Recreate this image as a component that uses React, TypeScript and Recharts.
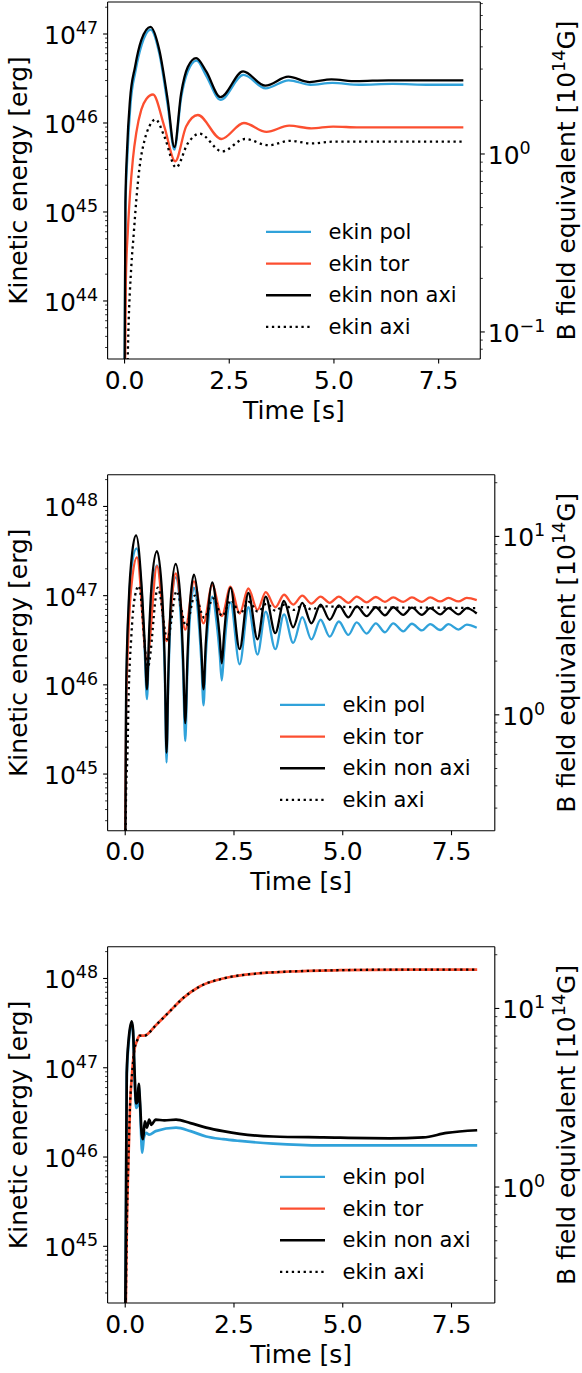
import React from 'react';
import { LineChart, Line, XAxis, YAxis, Legend, ReferenceLine } from 'recharts';

// each point is [time in s, log10 of kinetic energy in erg]
type Pt = [number, number];

const W = 582;
const FONT = '"DejaVu Sans", sans-serif';
const BLUE = '#30a2da';
const RED = '#fc4f30';
const DOT = '2.3 3.6';

const timeTicks = [0, 2.5, 5, 7.5];
const timeDomain: [number, number] = [-0.405, 8.495];
const mantissas = [2, 3, 4, 5, 6, 7, 8, 9];

// ---------- panel 1 ----------
const p1Pol: Pt[] = [
  [0, 43.0], [0.02, 45.0], [0.07, 45.65], [0.14, 46.2], [0.26, 46.58], [0.41, 46.88], [0.62, 47.05],
  [0.83, 46.78], [1.03, 46.2], [1.19, 45.7], [1.35, 46.28], [1.51, 46.58], [1.72, 46.7], [1.95, 46.53],
  [2.29, 46.26], [2.84, 46.54], [3.37, 46.39], [3.92, 46.48], [4.44, 46.43], [4.96, 46.45], [5.6, 46.43],
  [6.4, 46.44], [7.3, 46.43], [8.09, 46.43],
];
const p1Tor: Pt[] = [
  [0, 42.5], [0.03, 44.2], [0.08, 44.8], [0.13, 45.2], [0.2, 45.6], [0.28, 45.89], [0.4, 46.15], [0.52, 46.27],
  [0.68, 46.32], [0.95, 45.96], [1.21, 45.57], [1.47, 45.96], [1.75, 46.09], [2.31, 45.82], [2.85, 46.0],
  [3.39, 45.9], [3.93, 45.97], [4.46, 45.94], [4.98, 45.96], [5.6, 45.95], [6.4, 45.95], [7.3, 45.95], [8.09, 45.95],
];
const p1NonAxi: Pt[] = [
  [0, 43.0], [0.02, 45.1], [0.06, 45.7], [0.13, 46.26], [0.25, 46.63], [0.4, 46.93], [0.62, 47.08],
  [0.83, 46.82], [1.03, 46.26], [1.19, 45.73], [1.35, 46.33], [1.51, 46.63], [1.71, 46.73], [1.95, 46.58],
  [2.29, 46.29], [2.83, 46.58], [3.36, 46.42], [3.91, 46.52], [4.42, 46.46], [4.94, 46.49], [5.54, 46.47],
  [6.3, 46.48], [7.2, 46.48], [8.09, 46.48],
];
const p1Axi: Pt[] = [
  [0.05, 42.8], [0.09, 43.64], [0.16, 44.38], [0.22, 44.76], [0.28, 45.13], [0.36, 45.51], [0.48, 45.81],
  [0.6, 45.97], [0.74, 46.04], [0.95, 45.85], [1.23, 45.5], [1.51, 45.77], [1.79, 45.88], [2.33, 45.68],
  [2.87, 45.82], [3.44, 45.75], [3.95, 45.8], [4.46, 45.77], [4.98, 45.79], [5.6, 45.79], [6.4, 45.79],
  [7.3, 45.79], [8.09, 45.79],
];

// ---------- panel 2 ----------
const p2Pol: Pt[] = [
  [0, 44.0], [0.02, 45.8], [0.08, 46.85], [0.16, 47.37], [0.26, 47.53],
  [0.39, 46.95], [0.45, 46.35], [0.5, 45.84], [0.55, 46.5], [0.61, 47.0], [0.73, 47.34],
  [0.85, 46.85], [0.91, 46.1], [0.95, 45.13], [0.99, 46.0], [1.05, 46.8], [1.16, 47.205],
  [1.27, 46.8], [1.33, 46.15], [1.38, 45.37], [1.43, 46.15], [1.48, 46.7], [1.58, 47.09],
  [1.69, 46.7], [1.75, 46.25], [1.8, 45.77], [1.85, 46.3], [1.9, 46.65], [2.0, 46.99],
  [2.11, 46.65], [2.17, 46.35], [2.22, 46.05], [2.27, 46.35], [2.32, 46.65], [2.42, 46.925],
  [2.63, 46.23], [2.83, 46.87], [3.04, 46.34], [3.23, 46.82], [3.45, 46.4], [3.65, 46.79], [3.86, 46.47],
  [4.07, 46.76], [4.28, 46.51], [4.49, 46.73], [4.7, 46.54], [4.91, 46.71], [5.13, 46.56], [5.32, 46.7],
  [5.55, 46.575], [5.76, 46.69], [5.97, 46.59], [6.16, 46.69], [6.39, 46.6], [6.59, 46.685], [6.82, 46.61],
  [7.01, 46.68], [7.24, 46.615], [7.43, 46.68], [7.66, 46.62], [7.85, 46.675], [8.08, 46.64],
];
const p2Tor: Pt[] = [
  [0, 44.3], [0.02, 45.7], [0.06, 46.4], [0.11, 46.92], [0.17, 47.23], [0.27, 47.43], [0.5, 46.28],
  [0.73, 47.33], [0.95, 46.49], [1.16, 47.25], [1.38, 46.62], [1.58, 47.16], [1.8, 46.69], [2.0, 47.12],
  [2.22, 46.77], [2.42, 47.1], [2.63, 46.8], [2.83, 47.08], [3.04, 46.84], [3.23, 47.04], [3.45, 46.87],
  [3.65, 47.01], [3.86, 46.9], [4.07, 47.0], [4.28, 46.91], [4.49, 46.99], [4.7, 46.92], [4.91, 46.99],
  [5.13, 46.92], [5.32, 46.99], [5.55, 46.925], [5.76, 46.985], [5.97, 46.93], [6.16, 46.98], [6.39, 46.93],
  [6.59, 46.98], [6.82, 46.93], [7.01, 46.98], [7.24, 46.935], [7.43, 46.975], [7.66, 46.935], [7.85, 46.975],
  [8.08, 46.95],
];
const p2NonAxi: Pt[] = [
  [0, 44.0], [0.02, 45.9], [0.08, 46.92], [0.16, 47.48], [0.25, 47.675],
  [0.39, 47.0], [0.45, 46.45], [0.5, 45.95], [0.55, 46.6], [0.61, 47.15], [0.73, 47.5],
  [0.85, 47.0], [0.91, 46.2], [0.95, 45.24], [0.99, 46.1], [1.05, 46.95], [1.16, 47.355],
  [1.27, 46.95], [1.33, 46.3], [1.38, 45.57], [1.43, 46.3], [1.48, 46.85], [1.58, 47.235],
  [1.69, 46.85], [1.75, 46.4], [1.8, 45.95], [1.85, 46.45], [1.9, 46.8], [2.0, 47.15],
  [2.11, 46.82], [2.17, 46.55], [2.22, 46.24], [2.27, 46.55], [2.32, 46.82], [2.42, 47.09],
  [2.63, 46.4], [2.83, 47.03], [3.04, 46.51], [3.23, 46.99], [3.45, 46.58], [3.65, 46.94], [3.86, 46.645],
  [4.07, 46.92], [4.28, 46.69], [4.49, 46.9], [4.7, 46.73], [4.91, 46.89], [5.13, 46.757], [5.32, 46.88],
  [5.55, 46.77], [5.76, 46.87], [5.97, 46.78], [6.16, 46.87], [6.39, 46.785], [6.59, 46.865], [6.82, 46.785],
  [7.01, 46.86], [7.24, 46.79], [7.43, 46.86], [7.66, 46.79], [7.85, 46.86], [8.08, 46.8],
];
const p2Axi: Pt[] = [
  [0, 43.5], [0.02, 44.8], [0.05, 45.2], [0.08, 45.9], [0.14, 46.54], [0.2, 46.92], [0.31, 47.11],
  [0.52, 46.2], [0.75, 47.09], [0.97, 46.51], [1.18, 47.05], [1.4, 46.66], [1.6, 47.0], [1.82, 46.75],
  [2.02, 46.97], [2.23, 46.77], [2.43, 46.95], [2.64, 46.8], [2.84, 46.93], [3.05, 46.82], [3.25, 46.91],
  [3.46, 46.83], [3.66, 46.9], [3.87, 46.84], [4.08, 46.89], [4.29, 46.845], [4.5, 46.88], [4.92, 46.875],
  [5.5, 46.87], [6.2, 46.865], [7.0, 46.865], [8.08, 46.86],
];

// ---------- panel 3 ----------
const p3Pol: Pt[] = [
  [0, 44.0], [0.02, 45.55], [0.035, 46.9], [0.08, 47.28], [0.15, 47.5], [0.18, 47.4], [0.21, 46.98],
  [0.25, 46.55], [0.28, 46.57], [0.31, 46.78], [0.34, 46.57], [0.39, 46.05], [0.43, 46.22], [0.48, 46.27],
  [0.55, 46.25], [0.7, 46.29], [1.17, 46.33], [1.5, 46.29], [1.86, 46.23], [2.25, 46.2], [2.63, 46.18],
  [3.4, 46.15], [4.55, 46.13], [6.0, 46.13], [8.09, 46.13],
];
const p3Tor: Pt[] = [
  [0, 43.8], [0.02, 44.6], [0.04, 45.3], [0.07, 45.9], [0.11, 46.57], [0.16, 46.95], [0.21, 47.2],
  [0.27, 47.3], [0.33, 47.36], [0.44, 47.36], [0.71, 47.48], [1.02, 47.63], [1.33, 47.78], [1.71, 47.91],
  [2.25, 48.0], [3.02, 48.056], [3.78, 48.078], [4.94, 48.093], [6.5, 48.1], [8.09, 48.1],
];
const p3NonAxi: Pt[] = [
  [0, 44.0], [0.02, 45.6], [0.035, 46.94], [0.08, 47.32], [0.15, 47.52], [0.18, 47.42], [0.21, 47.02],
  [0.25, 46.6], [0.28, 46.62], [0.31, 46.82], [0.34, 46.62], [0.38, 46.25], [0.41, 46.2], [0.45, 46.4],
  [0.5, 46.33], [0.55, 46.42], [0.6, 46.36], [0.7, 46.42], [0.9, 46.41], [1.17, 46.42], [1.5, 46.38],
  [1.86, 46.33], [2.25, 46.29], [2.63, 46.26], [3.4, 46.23], [4.55, 46.22], [6.08, 46.21], [6.85, 46.22],
  [7.39, 46.27], [8.09, 46.3],
];
const p3Axi: Pt[] = [
  [0, 43.8], [0.02, 44.6], [0.04, 45.3], [0.07, 45.9], [0.11, 46.57], [0.16, 46.95], [0.21, 47.2],
  [0.27, 47.3], [0.33, 47.36], [0.44, 47.36], [0.71, 47.48], [1.02, 47.63], [1.33, 47.78], [1.71, 47.91],
  [2.25, 48.0], [3.02, 48.056], [3.78, 48.078], [4.94, 48.093], [6.5, 48.1], [8.09, 48.1],
];

// axis ranges (energy in erg, B in 1e14 G)
const p1EDomain: [number, number] = [2.228e43, 2.289e47];
const p1BDomain: [number, number] = [0.07047, 7.145];
const p23EDomain: [number, number] = [2.317e44, 2.27e48];
const p23BDomain: [number, number] = [0.2241, 22.18];
const p1EMajor = [1e44, 1e45, 1e46, 1e47];
const p1BMajor = [0.1, 1];
const p23EMajor = [1e45, 1e46, 1e47, 1e48];
const p23BMajor = [1, 10];

const logTicks = (major: number[], dom: [number, number]) => {
  const lo = Math.floor(Math.log10(dom[0]));
  const hi = Math.ceil(Math.log10(dom[1]));
  const minor: number[] = [];
  for (let d = lo; d <= hi; d++) {
    mantissas.forEach((m) => {
      const v = m * Math.pow(10, d);
      if (v >= dom[0] && v <= dom[1]) minor.push(v);
    });
  }
  return [...major, ...minor].sort((a, b) => a - b);
};

const toData = (pts: Pt[]) => pts.map(([t, lg]) => ({ t, e: Math.pow(10, lg) }));

const LogTick = (props: any) => {
  const { x, y, payload, side } = props;
  const v = payload.value;
  const lg = Math.log10(v);
  const exp = Math.round(lg);
  const major = Math.abs(lg - exp) < 1e-6;
  const dir = side === 'left' ? -1 : 1;
  const len = major ? 4.5 : 2.5;
  const expStr = exp < 0 ? `\u2212${-exp}` : `${exp}`;
  return (
    <g>
      <line x1={x} x2={x + dir * len} y1={y} y2={y} stroke="#000" strokeWidth={major ? 1.1 : 0.8} />
      {major && (
        <text
          x={side === 'left' ? x - 9.5 : x + 7.5}
          y={y + 10}
          textAnchor={side === 'left' ? 'end' : 'start'}
          fontSize={25}
          fontFamily={FONT}
          fill="#000"
        >
          10<tspan dy={-10} fontSize={17.5}>{expStr}</tspan>
        </text>
      )}
    </g>
  );
};

const TimeTick = (props: any) => {
  const { x, y, payload } = props;
  return (
    <g>
      <line x1={x} x2={x} y1={y} y2={y + 4.5} stroke="#000" strokeWidth={1.1} />
      <text x={x} y={y + 29.5} textAnchor="middle" fontSize={25} fontFamily={FONT} fill="#000">
        {payload.value.toFixed(1)}
      </text>
    </g>
  );
};

interface Series {
  name: string;
  color: string;
  dash?: string;
  pts: Pt[];
}

const makeSeries = (pol: Pt[], tor: Pt[], nonAxi: Pt[], axi: Pt[]): Series[] => [
  { name: 'ekin pol', color: BLUE, pts: pol },
  { name: 'ekin tor', color: RED, pts: tor },
  { name: 'ekin non axi', color: '#000', pts: nonAxi },
  { name: 'ekin axi', color: '#000', dash: DOT, pts: axi },
];

const LegendBox = ({ series }: { series: Series[] }) => (
  <svg width={230} height={128} style={{ display: 'block' }}>
    {series.map((s, i) => {
      const cy = 15.85 + i * 31.7;
      return (
        <g key={s.name}>
          <line x1={0} x2={45} y1={cy} y2={cy} stroke={s.color} strokeWidth={2.3} strokeDasharray={s.dash} />
          <text x={62.5} y={cy + 7} fontSize={21} fontFamily={FONT} fill="#000">
            {s.name}
          </text>
        </g>
      );
    })}
  </svg>
);

interface PanelProps {
  top: number;
  height: number;
  plotTop: number;
  plotBottom: number;
  plotRight: number;
  eDomain: [number, number];
  bDomain: [number, number];
  eMajor: number[];
  bMajor: number[];
  series: Series[];
  legendLeft: number;
  legendTop: number;
  lineWidth?: number;
}

const spine = { stroke: '#000', strokeWidth: 1.1 };

const Panel = (p: PanelProps) => {
  const plotLeft = 107.6;
  const margin = {
    top: p.plotTop,
    left: plotLeft - 60,
    right: W - p.plotRight - 60,
    bottom: p.height - p.plotBottom - 40,
  };
  const cy = (p.plotTop + p.plotBottom) / 2;
  const cx = (plotLeft + p.plotRight) / 2;
  return (
    <div style={{ position: 'absolute', left: 0, top: p.top, width: W, height: p.height }}>
      <LineChart width={W} height={p.height} margin={margin}>
        <XAxis
          type="number"
          dataKey="t"
          domain={timeDomain}
          ticks={timeTicks}
          allowDataOverflow
          interval={0}
          height={40}
          tickSize={0}
          tickMargin={0}
          tickLine={false}
          axisLine={spine}
          tick={<TimeTick />}
        />
        <YAxis
          yAxisId="e"
          type="number"
          scale="log"
          domain={p.eDomain}
          allowDataOverflow
          ticks={logTicks(p.eMajor, p.eDomain)}
          interval={0}
          width={60}
          tickSize={0}
          tickMargin={0}
          tickLine={false}
          axisLine={spine}
          tick={<LogTick side="left" />}
        />
        <YAxis
          yAxisId="b"
          orientation="right"
          type="number"
          scale="log"
          domain={p.bDomain}
          allowDataOverflow
          ticks={logTicks(p.bMajor, p.bDomain)}
          interval={0}
          width={60}
          tickSize={0}
          tickMargin={0}
          tickLine={false}
          axisLine={spine}
          tick={<LogTick side="right" />}
        />
        <ReferenceLine yAxisId="e" y={p.eDomain[1]} stroke="#000" strokeWidth={1.1} ifOverflow="visible" />
        {p.series.map((s) => (
          <Line
            key={s.name}
            yAxisId="e"
            data={toData(s.pts)}
            dataKey="e"
            name={s.name}
            type="monotone"
            stroke={s.color}
            strokeWidth={s.dash ? 2.3 : p.lineWidth ?? 2.3}
            strokeDasharray={s.dash}
            dot={false}
            activeDot={false}
            isAnimationActive={false}
          />
        ))}
        <Legend
          layout="vertical"
          align="center"
          verticalAlign="middle"
          width={230}
          height={128}
          wrapperStyle={{ left: p.legendLeft, top: p.legendTop, width: 230, height: 128 }}
          content={() => <LegendBox series={p.series} />}
        />
      </LineChart>
      <svg
        width={W}
        height={p.height}
        style={{ position: 'absolute', left: 0, top: 0, pointerEvents: 'none' }}
      >
        <text
          x={26.8}
          y={cy}
          transform={`rotate(-90 26.8 ${cy})`}
          textAnchor="middle"
          fontSize={25}
          fontFamily={FONT}
          fill="#000"
        >
          Kinetic energy [erg]
        </text>
        <text x={cx} y={p.plotBottom + 59.6} textAnchor="middle" fontSize={25} fontFamily={FONT} fill="#000">
          Time [s]
        </text>
        <text
          x={575}
          y={cy}
          transform={`rotate(-90 575 ${cy})`}
          textAnchor="middle"
          fontSize={25}
          fontFamily={FONT}
          fill="#000"
        >
          B field equivalent [10<tspan dy={-10} fontSize={17.5}>14</tspan>
          <tspan dy={10}>G]</tspan>
        </text>
      </svg>
    </div>
  );
}

export default function App() {
  return (
    <div style={{ position: 'absolute', left: 0, top: 0, width: W, height: 1373, background: '#fff' }}>
      <Panel
        top={0}
        height={430}
        plotTop={2}
        plotBottom={359}
        plotRight={480.3}
        eDomain={p1EDomain}
        bDomain={p1BDomain}
        eMajor={p1EMajor}
        bMajor={p1BMajor}
        series={makeSeries(p1Pol, p1Tor, p1NonAxi, p1Axi)}
        legendLeft={266}
        legendTop={216.2}
      />
      <Panel
        top={460}
        height={440}
        plotTop={14.7}
        plotBottom={370.7}
        plotRight={494.8}
        eDomain={p23EDomain}
        bDomain={p23BDomain}
        eMajor={p23EMajor}
        bMajor={p23BMajor}
        series={makeSeries(p2Pol, p2Tor, p2NonAxi, p2Axi)}
        legendLeft={280}
        legendTop={228.5}
      />
      <Panel
        top={930}
        height={443}
        plotTop={16.7}
        plotBottom={373}
        plotRight={494.8}
        eDomain={p23EDomain}
        bDomain={p23BDomain}
        eMajor={p23EMajor}
        bMajor={p23BMajor}
        series={makeSeries(p3Pol, p3Tor, p3NonAxi, p3Axi)}
        legendLeft={280}
        legendTop={230.9}
        lineWidth={2.7}
      />
    </div>
  );
}
